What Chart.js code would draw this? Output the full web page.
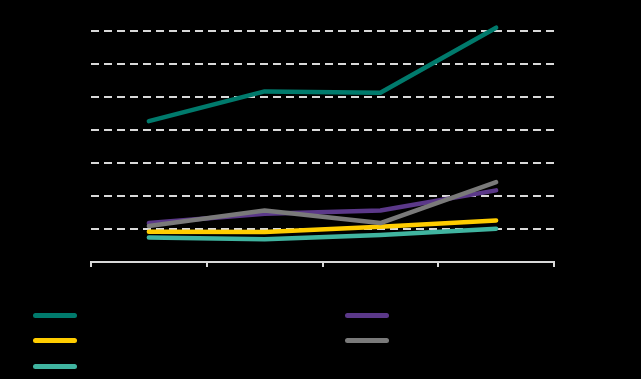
<!DOCTYPE html>
<html>
<head>
<meta charset="utf-8">
<script src="https://cdn.jsdelivr.net/npm/chart.js@4/dist/chart.umd.min.js"></script>
<style>
  html, body { margin: 0; padding: 0; background: #000; }
  #wrap { position: relative; width: 641px; height: 379px; background: #000; overflow: hidden; }
  #chartBox { position: absolute; left: 0; top: 0; width: 641px; height: 290px; }
  #legend { position: absolute; left: 0; top: 0; width: 641px; height: 379px; pointer-events: none;
            font-family: "Liberation Sans", Arial, sans-serif; font-size: 12px; color: #000; }
  .item { position: absolute; display: flex; align-items: center; height: 14px; }
  .swatch { width: 44px; height: 5px; border-radius: 3px; margin-right: 8px; }
</style>
</head>
<body>
<div id="wrap">
  <div id="chartBox"><canvas id="c"></canvas></div>
  <div id="legend"></div>
</div>
<script>
const categories = ["2019", "2020", "2021", "2022"];
const seriesNames = ["Series A", "Series B", "Series C", "Series D", "Series E"];
const seriesA = [42.7, 51.7, 51.3, 71.0];
const seriesB = [11.8, 14.6, 15.6, 21.7];
const seriesC = [9.2, 9.1, 10.7, 12.6];
const seriesD = [10.9, 15.6, 11.8, 24.2];
const seriesE = [7.4, 6.9, 8.2, 10.1];
const yTicks = [0, 10, 20, 30, 40, 50, 60, 70];

const colors = ["#007a6c", "#5b3889", "#ffcd00", "#7a7a7a", "#40b4a0"];
const values = [seriesA, seriesB, seriesC, seriesD, seriesE];
const orders = [0, 3, 4, 2, 5];

const datasets = values.map((v, i) => ({
  label: seriesNames[i],
  data: v,
  borderColor: colors[i],
  backgroundColor: colors[i],
  borderWidth: 4.5,
  borderCapStyle: 'round',
  borderJoinStyle: 'round',
  pointRadius: 0,
  tension: 0,
  clip: false,
  order: orders[i]
}));

new Chart(document.getElementById('c'), {
  type: 'line',
  data: { labels: categories, datasets },
  options: {
    responsive: true,
    maintainAspectRatio: false,
    animation: false,
    layout: { padding: { top: 31, right: 87, bottom: 0, left: 0 } },
    plugins: { legend: { display: false }, tooltip: { enabled: false } },
    scales: {
      x: {
        offset: true,
        grid: { offset: true, drawOnChartArea: false, drawTicks: true, tickLength: 5, color: '#d9d9d9', lineWidth: 2 },
        border: { display: true, color: '#d9d9d9', width: 2 },
        ticks: { color: '#000', font: { family: 'Liberation Sans', size: 12 } },
        afterFit: (s) => { s.height = 28; }
      },
      y: {
        min: 0, max: 70,
        afterBuildTicks: (s) => { s.ticks = yTicks.map(v => ({ value: v })); },
        grid: { drawTicks: false, color: (ctx) => ctx.tick && ctx.tick.value === 0 ? 'rgba(0,0,0,0)' : '#d9d9d9', lineWidth: 2 },
        border: { display: false, dash: [8, 5] },
        ticks: { color: '#000', padding: 8, font: { family: 'Liberation Sans', size: 12 } },
        afterFit: (s) => { s.width = 91; }
      }
    }
  }
});

const legend = document.getElementById('legend');
const pos = [[33, 315], [345, 315], [33, 340], [345, 340], [33, 366]];
seriesNames.forEach((name, i) => {
  const d = document.createElement('div');
  d.className = 'item';
  d.style.left = pos[i][0] + 'px';
  d.style.top = (pos[i][1] - 7) + 'px';
  d.innerHTML = '<span class="swatch" style="background:' + colors[i] + '"></span><span>' + name + '</span>';
  legend.appendChild(d);
});
</script>
</body>
</html>
